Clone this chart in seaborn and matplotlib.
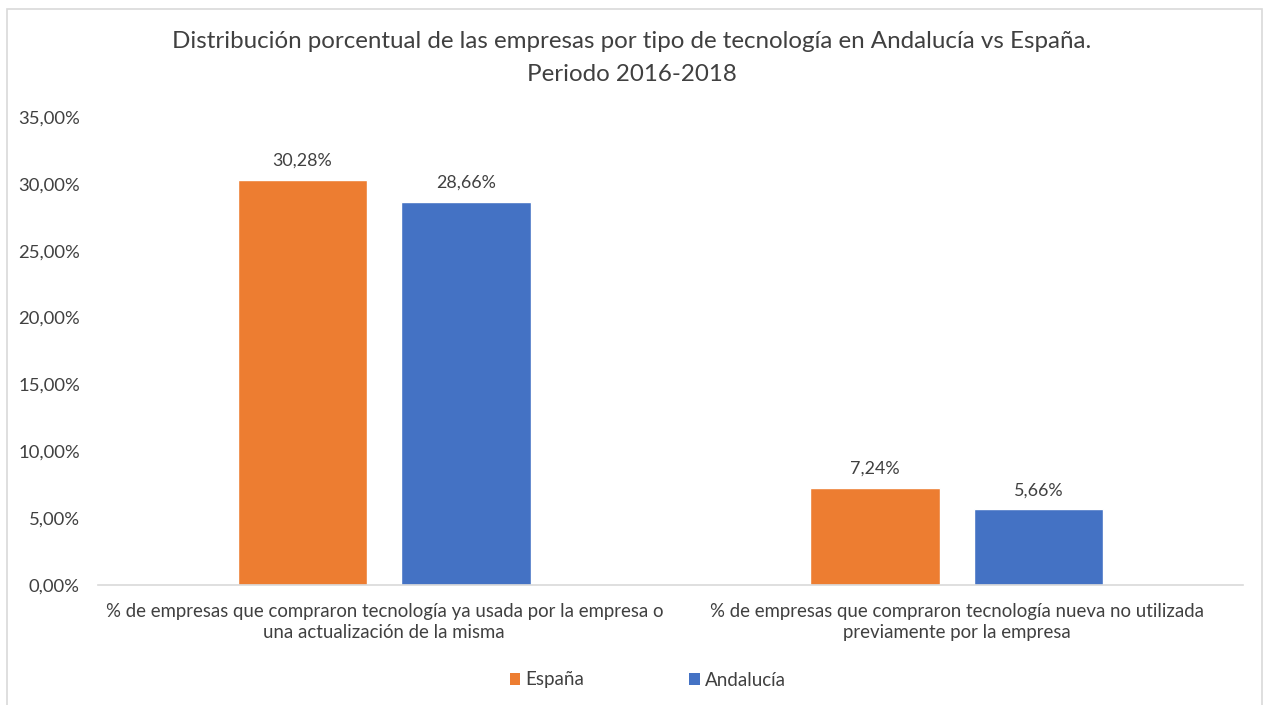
import matplotlib
matplotlib.use("Agg")
import matplotlib.pyplot as plt
from matplotlib.patches import Rectangle, Patch
from matplotlib.ticker import FuncFormatter
import seaborn as sns
import pandas as pd

categories = [
    "% de empresas que compraron tecnología ya usada por la empresa o\nuna actualización de la misma",
    "% de empresas que compraron tecnología nueva no utilizada\npreviamente por la empresa",
]
series = ["España", "Andalucía"]
espana = [30.28, 7.24]
andalucia = [28.66, 5.66]
colors = {"España": "#ED7D31", "Andalucía": "#4472C4"}
title = "Distribución porcentual de las empresas por tipo de tecnología en Andalucía vs España.\nPeriodo 2016-2018"

df = pd.DataFrame({
    "categoria": categories * 2,
    "serie": [series[0]] * 2 + [series[1]] * 2,
    "valor": espana + andalucia,
})

sns.set_theme(style="white")
plt.rcParams["font.family"] = ["Lato", "DejaVu Sans"]

W, H = 1263, 705
fig = plt.figure(figsize=(W / 100, H / 100), dpi=100)
ax = fig.add_axes([98 / W, 1 - 585 / H, (1243 - 98) / W, (585 - 117) / H])

sns.barplot(data=df, x="categoria", y="valor", hue="serie", palette=colors,
            width=0.571, gap=0.21, ax=ax, legend=False, saturation=1)

for cont in ax.containers:
    ax.bar_label(cont, labels=[f"{v:.2f}%".replace(".", ",") for v in cont.datavalues],
                 padding=8, fontsize=12.9, color="#404040")

ax.set_ylim(0, 35)
ax.set_yticks([0, 5, 10, 15, 20, 25, 30, 35])
ax.yaxis.set_major_formatter(FuncFormatter(lambda v, p: f"{v:.2f}%".replace(".", ",")))
ax.set_xlabel("")
ax.set_ylabel("")
for s in ["top", "right", "left"]:
    ax.spines[s].set_visible(False)
ax.spines["bottom"].set_color("#D9D9D9")
ax.spines["bottom"].set_linewidth(1.2)
ax.tick_params(axis="y", length=0, labelsize=13.3, labelcolor="#404040", pad=13)
ax.tick_params(axis="x", length=0, labelsize=13.4, labelcolor="#404040", pad=13)
for lab in ax.get_xticklabels():
    lab.set_linespacing(1.3)

fig.text(0.5, 1 - 31 / H, title, ha="center", va="top", fontsize=17.4,
         color="#404040", linespacing=1.7)

handles = [Patch(facecolor=colors[s], edgecolor="none", label=s) for s in series]
fig.legend(handles=handles, loc="center", bbox_to_anchor=(648 / W, 1 - 680 / H), ncol=2,
           frameon=False, fontsize=13.5, handlelength=0.55, handleheight=0.55,
           handletextpad=0.3, columnspacing=5.6, labelcolor="#404040")

fig.patches.append(Rectangle((7 / W, -0.01), (1262 - 7) / W, 1 - 9 / H + 0.01,
                             transform=fig.transFigure, fill=False,
                             edgecolor="#D9D9D9", linewidth=1.2))

fig.savefig("out.png", dpi=100)
